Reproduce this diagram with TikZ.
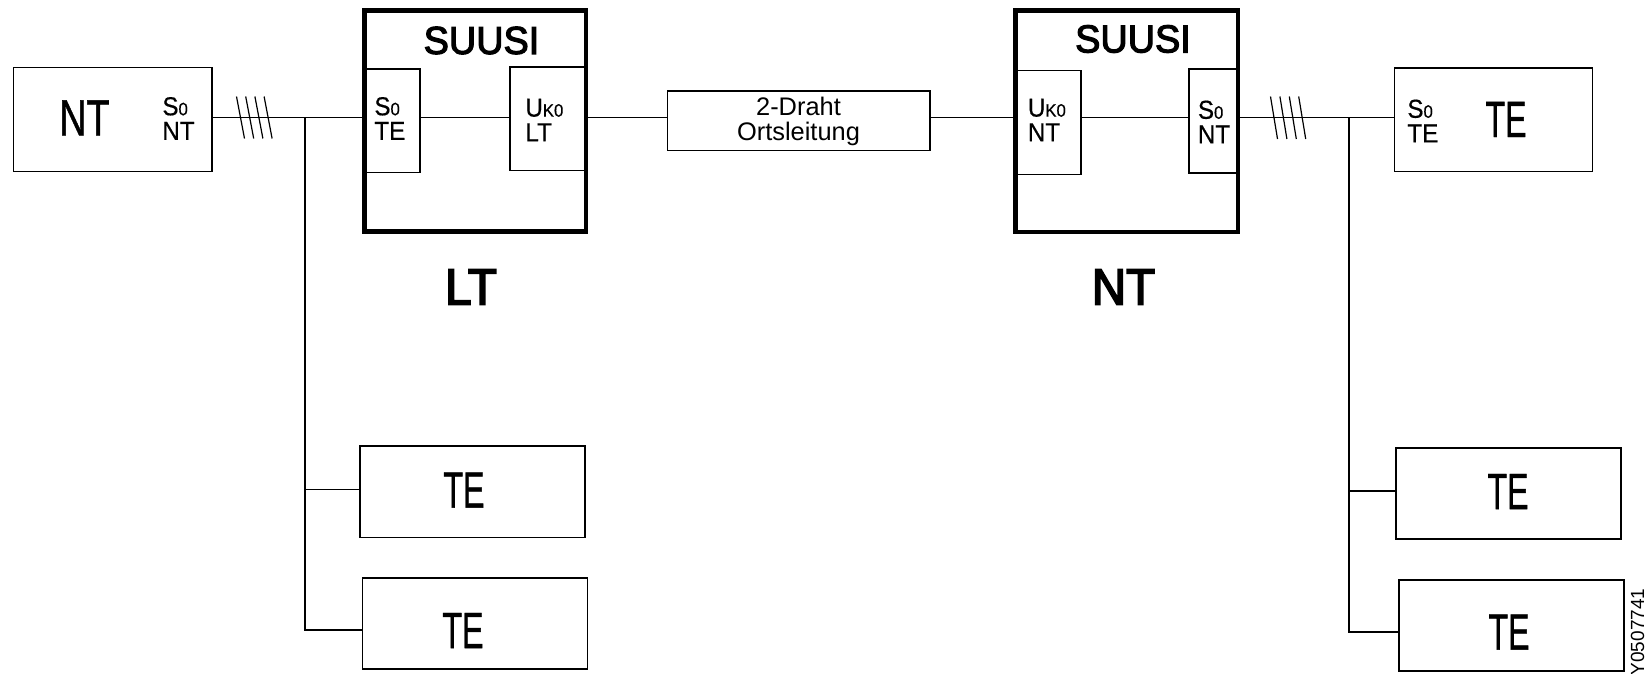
\documentclass[tikz,border=0pt]{standalone}
\usepackage{fontspec}
\usepackage{tikz}
\usetikzlibrary{positioning, calc}
\setmainfont{Liberation Sans}
\newfontfamily\tefont[FakeStretch=0.63,FakeBold=0.8]{Liberation Sans}
\newfontfamily\ntfont[FakeStretch=0.74,FakeBold=0.8]{Liberation Sans}
\newfontfamily\headfont[FakeBold=3.5,FakeStretch=0.93]{Liberation Sans}
\newfontfamily\suusifont[FakeBold=3,FakeStretch=0.97]{Liberation Sans}
\newfontfamily\portfont[FakeStretch=0.93,FakeBold=0.5]{Liberation Sans}
\newcommand{\portidx}[1]{{\fontsize{9}{9}\selectfont #1}}
\tikzset{
  unitbox/.style={rectangle, draw=black, line width=0.8pt, inner sep=0pt, outer sep=0pt},
  suusibox/.style={rectangle, draw=black, line width=2.4pt, inner sep=0pt, outer sep=0pt},
  bigname/.style={inner sep=0pt, font=\fontsize{25.5}{25.5}\selectfont},
  headname/.style={inner sep=0pt, font=\headfont\fontsize{25.5}{25.5}\selectfont},
  suusiname/.style={inner sep=0pt, font=\suusifont\fontsize{19.5}{19.5}\selectfont},
  portlabel/.style={inner sep=0pt, align=left, font=\portfont\fontsize{13}{12.3}\selectfont},
  wire/.style={line width=0.8pt, color=black}
}
% box given by its corners in pixels of the reference
\newcommand{\boxnode}[6][unitbox]{%
  \node[#1, anchor=north west, minimum width=#5*0.5pt-#3*0.5pt, minimum height=#6*0.5pt-#4*0.5pt] (#2) at (#3,#4) {};}

\begin{document}
\begin{tikzpicture}[x=0.5pt, y=-0.5pt]
  \useasboundingbox (0,0) rectangle (1648,674);

  % Left side
  \boxnode{ntL}{13.5}{67.5}{212}{171.5}
  \boxnode{teLa}{360}{446}{585}{537.5}
  \boxnode{teLb}{362.5}{578}{587.5}{669}
  \boxnode{portS}{364.5}{69}{420}{172.5}
  \boxnode{portU}{510}{67}{586}{170.5}
  \boxnode[suusibox]{suusiL}{364.5}{10.5}{586}{231.5}

  % Line box
  \boxnode{ortsl}{667.5}{91}{930}{150.5}

  % Right side
  \boxnode{portV}{1015.5}{70.5}{1081}{174.5}
  \boxnode{portT}{1189}{69}{1238}{173}
  \boxnode[suusibox]{suusiR}{1015.5}{10.5}{1238}{232}
  \boxnode{teRt}{1394.5}{68}{1592.5}{171.5}
  \boxnode{teRa}{1396}{448}{1621}{539}
  \boxnode{teRb}{1399}{580}{1624}{671}

  % Names
  \node[bigname] (ntLname) at (84.5,118) {\ntfont NT};
  \node[bigname] (teLaname) at (464,490) {\tefont TE};
  \node[bigname] (teLbname) at (463,630.5) {\tefont TE};
  \node[bigname] (teRtname) at (1506,119.5) {\tefont TE};
  \node[bigname] (teRaname) at (1508,491.5) {\tefont TE};
  \node[bigname] (teRbname) at (1509,632) {\tefont TE};
  \node[suusiname] (suusiLname) at (481.5,40.5) {SUUSI};
  \node[suusiname] (suusiRname) at (1133,39) {SUUSI};
  \node[headname] (ltname) at (471,287) {LT};
  \node[headname] (ntname) at (1123.5,287) {NT};

  % Port labels
  \node[portlabel, anchor=west] (ntLport) at (162,118.5) {S\portidx{0}\\NT};
  \node[portlabel, anchor=west] (portSlab) at (374,118.5) {S\portidx{0}\\TE};
  \node[portlabel, anchor=west] (portUlab) at (525,120) {U\portidx{K0}\\LT};
  \node[portlabel, anchor=west] (portVlab) at (1027.5,120) {U\portidx{K0}\\NT};
  \node[portlabel, anchor=west] (portTlab) at (1197.5,122) {S\portidx{0}\\NT};
  \node[portlabel, anchor=west] (teRtport) at (1407,121) {S\portidx{0}\\TE};
  \node[inner sep=0pt, align=center, font=\fontsize{12.7}{12.5}\selectfont] (ortslab) at (798.5,121.5) {2-Draht\\Ortsleitung};
  \node[inner sep=0pt, rotate=90, font=\fontsize{9.5}{9.5}\selectfont] (code) at (1637.5,632) {Y0507741};

  % Buses
  \coordinate (busL) at (305,117.5);
  \coordinate (busR) at (1349,117.5);
  \coordinate (stubLa) at (305,489.5);
  \coordinate (stubLb) at (305,630);
  \coordinate (stubRa) at (1349,491);
  \coordinate (stubRb) at (1349,632);
  \draw[wire] (busL -| ntL.east) -- (busL -| portS.west);
  \draw[wire] (busL -| portS.east) -- (busL -| portU.west);
  \draw[wire] (busL -| suusiL.east) -- (busL -| ortsl.west);
  \draw[wire] (busL -| ortsl.east) -- (busL -| suusiR.west);
  \draw[wire] (busL -| portV.east) -- (busL -| portT.west);
  \draw[wire] (busR -| suusiR.east) -- (busR -| teRt.west);

  % Stubs
  \draw[wire] (busL) -- (stubLb) -- (stubLb -| teLb.west);
  \draw[wire] (stubLa) -- (stubLa -| teLa.west);
  \draw[wire] (busR) -- (stubRb) -- (stubRb -| teRb.west);
  \draw[wire] (stubRa) -- (stubRa -| teRa.west);

  % Bundle marks
  \foreach \dx in {0,1,2,3} {
    \draw[line width=0.6pt] (236.5+9.2*\dx,96.5) -- (244.5+9.2*\dx,138.5);
    \draw[line width=0.6pt] (1270.5+9.4*\dx,96.5) -- (1277.5+9.4*\dx,139);
  }
\end{tikzpicture}
\end{document}
